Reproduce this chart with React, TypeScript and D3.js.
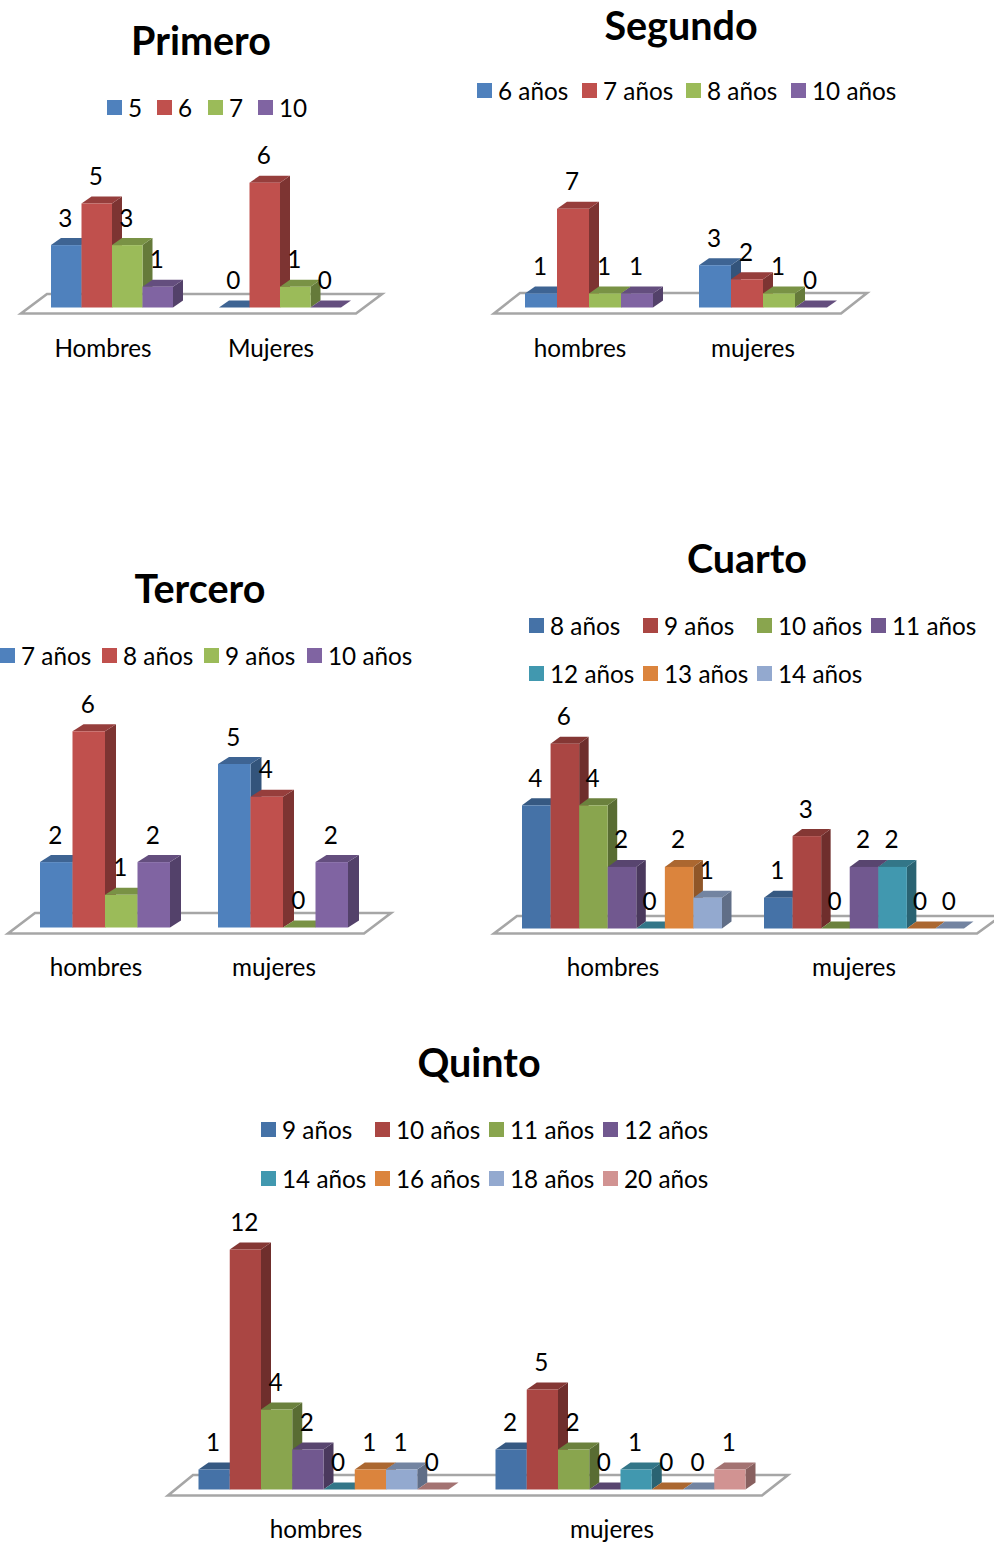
import React from "react";
import * as d3 from "d3";

const FONT = "Lato, Carlito, sans-serif";

// Series colours
const paletteBright = ["#4F81BD", "#C0504D", "#9BBB59", "#8064A2"];
const paletteMuted = ["#4572A7", "#AA4643", "#89A54E", "#71588F", "#4198AF", "#DB843D", "#93A9CF", "#D19392"];

// Primero
const primeroGroups = ["Hombres", "Mujeres"];
const primeroSeries = ["5", "6", "7", "10"];
const primeroHombres = [3, 5, 3, 1];
const primeroMujeres = [0, 6, 1, 0];

// Segundo
const segundoGroups = ["hombres", "mujeres"];
const segundoSeries = ["6 años", "7 años", "8 años", "10 años"];
const segundoHombres = [1, 7, 1, 1];
const segundoMujeres = [3, 2, 1, 0];

// Tercero
const terceroGroups = ["hombres", "mujeres"];
const terceroSeries = ["7 años", "8 años", "9 años", "10 años"];
const terceroHombres = [2, 6, 1, 2];
const terceroMujeres = [5, 4, 0, 2];

// Cuarto
const cuartoGroups = ["hombres", "mujeres"];
const cuartoSeries = ["8 años", "9 años", "10 años", "11 años", "12 años", "13 años", "14 años"];
const cuartoHombres = [4, 6, 4, 2, 0, 2, 1];
const cuartoMujeres = [1, 3, 0, 2, 2, 0, 0];

// Quinto
const quintoGroups = ["hombres", "mujeres"];
const quintoSeries = ["9 años", "10 años", "11 años", "12 años", "14 años", "16 años", "18 años", "20 años"];
const quintoHombres = [1, 12, 4, 2, 0, 1, 1, 0];
const quintoMujeres = [2, 5, 2, 0, 1, 0, 0, 1];

type Layout = {
  title: string;
  titleX: number;
  titleY: number;
  groups: string[];
  series: string[];
  values: number[][];
  colors: string[];
  legendRows: { y: number; xs: number[] }[];
  plotX: number;      // left edge of the first cluster
  clusterW: number;   // width of one cluster of bars
  step: number;       // distance between clusters
  base: number;       // baseline of the front faces
  unit: number;       // pixels per unit of value
  dx: number;
  dy: number;
  floor: { left: number; right: number; backLeft: number; backRight: number; front: number; back: number };
  labelY: number;
  categoryX: number[];
};

const charts: Layout[] = [
  {
    title: "Primero", titleX: 201, titleY: 39,
    groups: primeroGroups, series: primeroSeries, values: [primeroHombres, primeroMujeres], colors: paletteBright,
    legendRows: [{ y: 107.5, xs: [107, 157, 208, 258] }],
    plotX: 51, clusterW: 122, step: 168, base: 307.5, unit: 20.8, dx: 10, dy: 7,
    floor: { left: 21, right: 356, backLeft: 47, backRight: 382, front: 313.5, back: 294 },
    labelY: 347, categoryX: [103, 271],
  },
  {
    title: "Segundo", titleX: 681, titleY: 24,
    groups: segundoGroups, series: segundoSeries, values: [segundoHombres, segundoMujeres], colors: paletteBright,
    legendRows: [{ y: 90.5, xs: [477, 582, 686, 791] }],
    plotX: 525, clusterW: 128, step: 174, base: 307.5, unit: 14.1, dx: 10, dy: 7,
    floor: { left: 494, right: 841, backLeft: 520, backRight: 867, front: 313.5, back: 293 },
    labelY: 347, categoryX: [580, 753],
  },
  {
    title: "Tercero", titleX: 200, titleY: 587,
    groups: terceroGroups, series: terceroSeries, values: [terceroHombres, terceroMujeres], colors: paletteBright,
    legendRows: [{ y: 655.5, xs: [0, 102, 204, 307] }],
    plotX: 40, clusterW: 130, step: 178, base: 927.5, unit: 32.7, dx: 11, dy: 7,
    floor: { left: 8, right: 364, backLeft: 35, backRight: 391, front: 933.5, back: 913 },
    labelY: 966, categoryX: [96, 274],
  },
  {
    title: "Cuarto", titleX: 747, titleY: 557,
    groups: cuartoGroups, series: cuartoSeries, values: [cuartoHombres, cuartoMujeres], colors: paletteMuted,
    legendRows: [
      { y: 625.5, xs: [529, 643, 757, 871] },
      { y: 673.5, xs: [529, 643, 757] },
    ],
    plotX: 522, clusterW: 200, step: 242, base: 928.5, unit: 30.8, dx: 9.5, dy: 7,
    floor: { left: 494, right: 977, backLeft: 517, backRight: 1001, front: 933.5, back: 916 },
    labelY: 966, categoryX: [613, 854],
  },
  {
    title: "Quinto", titleX: 479, titleY: 1061,
    groups: quintoGroups, series: quintoSeries, values: [quintoHombres, quintoMujeres], colors: paletteMuted,
    legendRows: [
      { y: 1129.5, xs: [261, 375, 489, 603] },
      { y: 1178.5, xs: [261, 375, 489, 603] },
    ],
    plotX: 198.5, clusterW: 250, step: 297, base: 1489.5, unit: 20, dx: 10, dy: 7,
    floor: { left: 168, right: 762, backLeft: 193, backRight: 788, front: 1495.5, back: 1475 },
    labelY: 1528, categoryX: [316, 612],
  },
];

const TEXT_SIZE = 24.3;
const TITLE_SIZE = 39.5;

function Bar3D({ x, w, y, base, dx, dy, color }: { x: number; w: number; y: number; base: number; dx: number; dy: number; color: string }) {
  const path = d3.line();
  const top = d3.rgb(color).darker(0.7).formatHex();
  const side = d3.rgb(color).darker(1.2).formatHex();
  const h = base - y;
  return (
    <g>
      {h > 0 && (
        <path
          d={path([[x + w, y], [x + w + dx, y - dy], [x + w + dx, base - dy], [x + w, base]]) + "Z"}
          fill={side}
        />
      )}
      <path d={path([[x, y], [x + dx, y - dy], [x + w + dx, y - dy], [x + w, y]]) + "Z"} fill={top} />
      {h > 0 && <rect x={x} y={y} width={w} height={h} fill={color} />}
    </g>
  );
}

function Chart({ c }: { c: Layout }) {
  const gap = c.step - c.clusterW;
  const xGroup = d3
    .scaleBand<string>()
    .domain(c.groups)
    .range([c.plotX, c.plotX + c.step * c.groups.length - gap])
    .paddingInner(gap / c.step);
  const xSeries = d3
    .scaleBand<string>()
    .domain(c.series)
    .range([0, xGroup.bandwidth()]);
  const maxV = d3.max(c.values.flat()) as number;
  const y = d3.scaleLinear().domain([0, maxV]).range([c.base, c.base - c.unit * maxV]);
  const f = c.floor;
  const floorPath =
    d3.line()([
      [f.left, f.front],
      [f.right, f.front],
      [f.backRight, f.back],
      [f.backLeft, f.back],
    ]) + "Z";

  return (
    <g fontFamily={FONT} fill="#000">
      <text x={c.titleX} y={c.titleY} textAnchor="middle" dominantBaseline="central" fontSize={TITLE_SIZE} fontWeight={700}>
        {c.title}
      </text>

      {c.legendRows.map((row, r) => {
        const offset = c.legendRows.slice(0, r).reduce((s, p) => s + p.xs.length, 0);
        return row.xs.map((lx, i) => (
          <g key={`${r}-${i}`}>
            <rect x={lx} y={row.y - 7.5} width={15} height={15} fill={c.colors[offset + i]} />
            <text x={lx + 21} y={row.y} dominantBaseline="central" fontSize={TEXT_SIZE}>
              {c.series[offset + i]}
            </text>
          </g>
        ));
      })}

      <path d={floorPath} fill="#fff" stroke="#A6A6A6" strokeWidth={2.6} />

      {c.groups.map((g, gi) =>
        c.series.map((s, si) => (
          <Bar3D
            key={`${g}-${s}`}
            x={(xGroup(g) as number) + (xSeries(s) as number)}
            w={xSeries.bandwidth()}
            y={y(c.values[gi][si])}
            base={c.base}
            dx={c.dx}
            dy={c.dy}
            color={c.colors[si]}
          />
        ))
      )}

      {c.groups.map((g, gi) =>
        c.series.map((s, si) => (
          <text
            key={`${g}-${s}-v`}
            x={(xGroup(g) as number) + (xSeries(s) as number) + xSeries.bandwidth() / 2 - 1}
            y={y(c.values[gi][si]) - 28}
            textAnchor="middle"
            dominantBaseline="central"
            fontSize={TEXT_SIZE}
          >
            {c.values[gi][si]}
          </text>
        ))
      )}

      {c.groups.map((g, gi) => (
        <text key={g} x={c.categoryX[gi]} y={c.labelY} textAnchor="middle" dominantBaseline="central" fontSize={TEXT_SIZE}>
          {g}
        </text>
      ))}
    </g>
  );
}

export default function App() {
  return (
    <svg
      width={994}
      height={1545}
      viewBox="0 0 994 1545"
      style={{ position: "absolute", left: 0, top: 0, display: "block", background: "#fff" }}
    >
      {charts.map((c) => (
        <Chart key={c.title} c={c} />
      ))}
    </svg>
  );
}
